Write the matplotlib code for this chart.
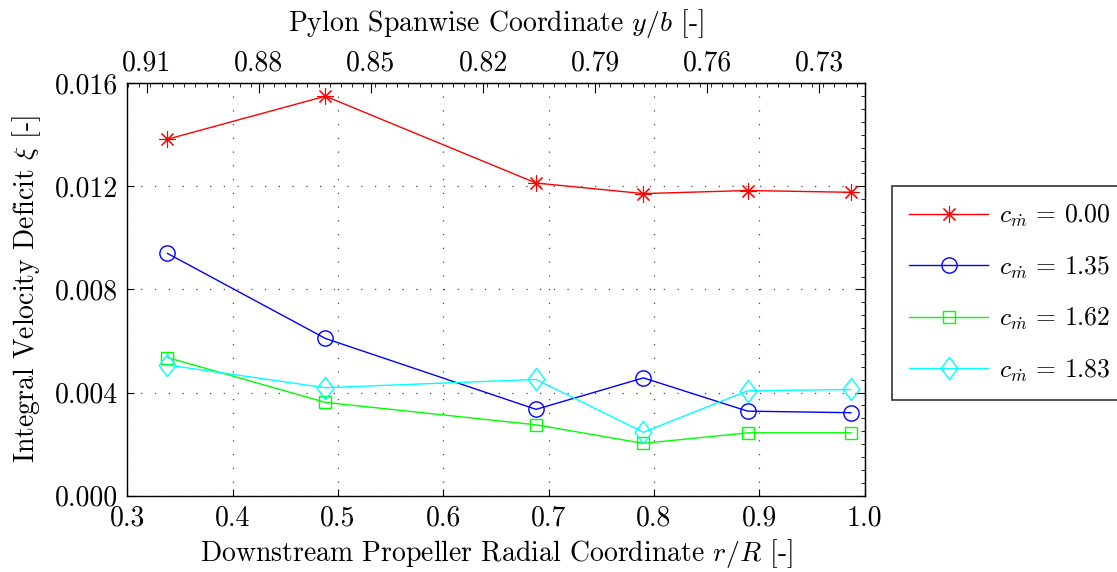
"""Integral velocity deficit vs. downstream propeller radial coordinate."""

import matplotlib
matplotlib.use('Agg')
import matplotlib.pyplot as plt
from matplotlib.path import Path
from matplotlib.ticker import FormatStrFormatter, MultipleLocator, FixedLocator

plt.rcParams['font.family'] = 'serif'
plt.rcParams['font.serif'] = ['cmr10']
plt.rcParams['mathtext.fontset'] = 'cm'
plt.rcParams['axes.formatter.use_mathtext'] = True

# data
r_R = [0.338, 0.488, 0.688, 0.790, 0.889, 0.987]
xi_000 = [0.01383, 0.01550, 0.01213, 0.01172, 0.01184, 0.01177]
xi_135 = [0.00940, 0.00610, 0.00335, 0.00457, 0.00328, 0.00322]
xi_162 = [0.00536, 0.00362, 0.00275, 0.00203, 0.00244, 0.00244]
xi_183 = [0.00507, 0.00419, 0.00451, 0.00246, 0.00407, 0.00412]
labels = ['0.00', '1.35', '1.62', '1.83']
yb_ticks = [0.91, 0.88, 0.85, 0.82, 0.79, 0.76, 0.73]

# linear mapping r/R -> y/b for the top axis
YB0, R0, K = 0.91, 0.3183, 0.28178
FS = 20


def r_to_yb(r):
    return YB0 - K * (r - R0)


def yb_to_r(yb):
    return R0 + (YB0 - yb) / K


diamond = Path([(0, 1), (0.75, 0), (0, -1), (-0.75, 0), (0, 1)],
               [Path.MOVETO, Path.LINETO, Path.LINETO, Path.LINETO, Path.CLOSEPOLY])

styles = [
    dict(color='#ff0000', marker=(8, 2, 0), ms=12, mew=0.8),
    dict(color='#0000ff', marker='o', ms=11, mfc='none', mew=1.0),
    dict(color='#00ff00', marker='s', ms=9, mfc='none', mew=1.0),
    dict(color='#00ffff', marker=diamond, ms=16, mfc='none', mew=1.0),
]

fig = plt.figure(figsize=(11.17, 5.72), dpi=100)
ax = fig.add_axes([0.1141, 0.1334, 0.6599, 0.7210])

for vals, lab, st in zip([xi_000, xi_135, xi_162, xi_183], labels, styles):
    ax.plot(r_R, vals, lw=1.0, label=r'$c_{\dot{m}}\,=\,%s$' % lab, **st)

ax.set_xlim(0.3, 1.0)
ax.set_ylim(0.0, 0.016)
ax.xaxis.set_major_locator(MultipleLocator(0.1))
ax.yaxis.set_major_locator(MultipleLocator(0.004))
ax.yaxis.set_major_formatter(FormatStrFormatter('%.3f'))
ax.xaxis.set_major_formatter(FormatStrFormatter('%.1f'))
ax.tick_params(direction='in', length=5, width=0.8, labelsize=FS, pad=7)
ax.grid(True, color='#444444', linestyle=(0, (1, 10)), linewidth=0.9)
for s in ax.spines.values():
    s.set_linewidth(1.0)

ax.set_xlabel(r'Downstream Propeller Radial Coordinate $r/R$ [-]', fontsize=FS, labelpad=4)
ax.set_ylabel(r'Integral Velocity Deficit $\xi$ [-]', fontsize=FS, labelpad=8)

top = ax.secondary_xaxis('top', functions=(r_to_yb, yb_to_r))
top.xaxis.set_major_locator(FixedLocator(yb_ticks))
top.xaxis.set_minor_locator(MultipleLocator(0.003))
top.xaxis.set_major_formatter(FormatStrFormatter('%.2f'))
top.tick_params(which='major', direction='in', length=7, width=0.8, labelsize=FS, pad=5)
top.tick_params(which='minor', direction='in', length=3, width=0.6)
top.set_xlabel(r'Pylon Spanwise Coordinate $y/b$ [-]', fontsize=FS, labelpad=14)

right = ax.secondary_yaxis('right')
right.yaxis.set_major_locator(MultipleLocator(0.004))
right.yaxis.set_minor_locator(MultipleLocator(0.0005))
right.tick_params(which='major', direction='in', length=7, width=0.8, labelright=False)
right.tick_params(which='minor', direction='in', length=3, width=0.6)

leg = fig.legend(loc='upper left', bbox_to_anchor=(892 / 1117, 1 - 186 / 572),
                 fontsize=18.5, frameon=True, fancybox=False, edgecolor='black',
                 handlelength=3.1, labelspacing=0.98, borderpad=0.65, handletextpad=0.4,
                 borderaxespad=0)
leg.get_frame().set_linewidth(1.2)

fig.savefig('out.png', dpi=100)
plt.close(fig)
